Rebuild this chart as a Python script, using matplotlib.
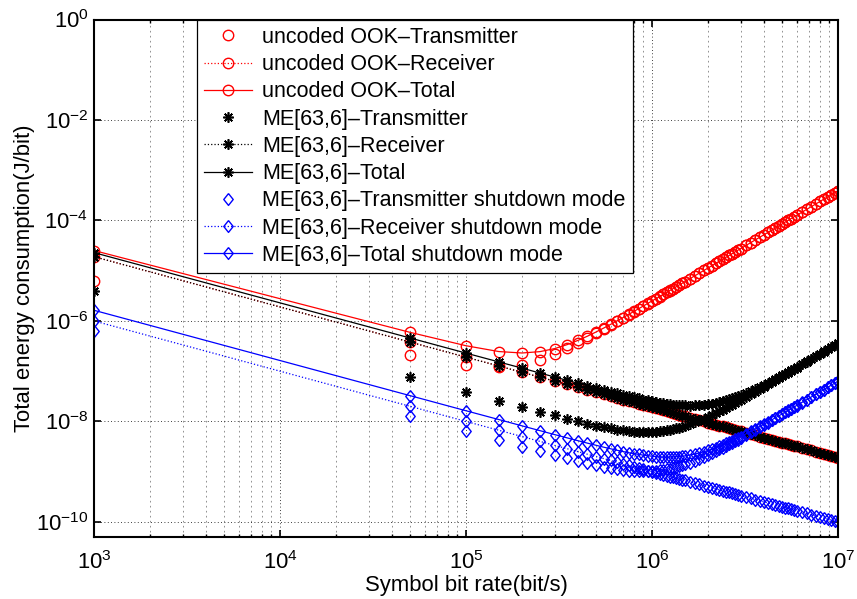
import matplotlib
matplotlib.use("Agg")
import matplotlib.pyplot as plt
from matplotlib.ticker import LogLocator, NullLocator, NullFormatter

plt.rcParams["font.family"] = ["Liberation Sans", "DejaVu Sans"]
plt.rcParams["mathtext.fontset"] = "custom"
plt.rcParams["mathtext.rm"] = "Liberation Sans"
plt.rcParams["mathtext.it"] = "Liberation Sans:italic"
plt.rcParams["mathtext.bf"] = "Liberation Sans:bold"

# symbol bit rate (bit/s)
X_BPS = [1e3, 5e4, 1e5, 1.5e5, 2e5, 2.5e5, 3e5, 3.5e5, 4e5, 4.5e5, 5e5,
         5.5e5, 6e5, 6.5e5, 7e5, 7.5e5, 8e5, 8.5e5, 9e5, 9.5e5, 1e6,
         1.05e6, 1.1e6, 1.15e6, 1.2e6, 1.25e6, 1.3e6, 1.35e6, 1.4e6, 1.45e6, 1.5e6,
         1.6e6, 1.7e6, 1.8e6, 1.9e6, 2.0e6, 2.1e6, 2.2e6, 2.3e6, 2.4e6, 2.5e6,
         2.6e6, 2.7e6, 2.8e6, 2.9e6, 3.0e6,
         3.2e6, 3.4e6, 3.6e6, 3.8e6, 4.0e6, 4.2e6, 4.4e6, 4.6e6, 4.8e6, 5.0e6,
         5.2e6, 5.4e6, 5.6e6, 5.8e6, 6.0e6,
         6.4e6, 6.8e6, 7.2e6, 7.6e6, 8.0e6, 8.4e6, 8.8e6, 9.2e6, 9.6e6, 1e7]

# energy per bit (J/bit)
OOK_TX = [6.2e-6, 2.13e-7, 1.31e-7, 1.19e-7, 1.35e-7, 1.69e-7, 2.19e-7, 2.84e-7, 3.62e-7, 4.56e-7, 5.64e-7,
          6.87e-7, 8.24e-7, 9.77e-7, 1.14e-6, 1.33e-6, 1.53e-6, 1.74e-6, 1.97e-6, 2.22e-6, 2.48e-6,
          2.76e-6, 3.05e-6, 3.36e-6, 3.69e-6, 4.03e-6, 4.40e-6, 4.77e-6, 5.17e-6, 5.58e-6, 6.02e-6,
          6.93e-6, 7.91e-6, 8.97e-6, 1.01e-5, 1.13e-5, 1.26e-5, 1.40e-5, 1.54e-5, 1.69e-5, 1.85e-5,
          2.01e-5, 2.19e-5, 2.37e-5, 2.56e-5, 2.76e-5,
          3.18e-5, 3.63e-5, 4.12e-5, 4.64e-5, 5.20e-5, 5.78e-5, 6.41e-5, 7.07e-5, 7.76e-5, 8.49e-5,
          9.26e-5, 1.01e-4, 1.09e-4, 1.18e-4, 1.27e-4,
          1.46e-4, 1.67e-4, 1.89e-4, 2.13e-4, 2.39e-4, 2.66e-4, 2.94e-4, 3.25e-4, 3.57e-4, 3.90e-4]
OOK_RX = [1.9e-5, 3.8e-7, 1.9e-7, 1.27e-7, 9.5e-8, 7.6e-8, 6.33e-8, 5.43e-8, 4.75e-8, 4.22e-8, 3.8e-8,
          3.45e-8, 3.17e-8, 2.92e-8, 2.71e-8, 2.53e-8, 2.38e-8, 2.24e-8, 2.11e-8, 2.0e-8, 1.9e-8,
          1.81e-8, 1.73e-8, 1.65e-8, 1.58e-8, 1.52e-8, 1.46e-8, 1.41e-8, 1.36e-8, 1.31e-8, 1.27e-8,
          1.19e-8, 1.12e-8, 1.06e-8, 1.0e-8, 9.5e-9, 9.05e-9, 8.64e-9, 8.26e-9, 7.92e-9, 7.6e-9,
          7.31e-9, 7.04e-9, 6.79e-9, 6.55e-9, 6.33e-9,
          5.94e-9, 5.59e-9, 5.28e-9, 5.0e-9, 4.75e-9, 4.52e-9, 4.32e-9, 4.13e-9, 3.96e-9, 3.8e-9,
          3.65e-9, 3.52e-9, 3.39e-9, 3.28e-9, 3.17e-9,
          2.97e-9, 2.79e-9, 2.64e-9, 2.5e-9, 2.38e-9, 2.26e-9, 2.16e-9, 2.07e-9, 1.98e-9, 1.9e-9]
OOK_TOTAL = [2.52e-5, 5.93e-7, 3.21e-7, 2.46e-7, 2.30e-7, 2.45e-7, 2.82e-7, 3.38e-7, 4.10e-7, 4.98e-7, 6.02e-7,
             7.22e-7, 8.56e-7, 1.01e-6, 1.17e-6, 1.35e-6, 1.55e-6, 1.76e-6, 1.99e-6, 2.24e-6, 2.50e-6,
             2.77e-6, 3.07e-6, 3.38e-6, 3.71e-6, 4.05e-6, 4.41e-6, 4.79e-6, 5.19e-6, 5.60e-6, 6.03e-6,
             6.94e-6, 7.92e-6, 8.98e-6, 1.01e-5, 1.13e-5, 1.26e-5, 1.40e-5, 1.54e-5, 1.69e-5, 1.85e-5,
             2.01e-5, 2.19e-5, 2.37e-5, 2.56e-5, 2.76e-5,
             3.18e-5, 3.63e-5, 4.12e-5, 4.64e-5, 5.20e-5, 5.78e-5, 6.41e-5, 7.07e-5, 7.76e-5, 8.49e-5,
             9.26e-5, 1.01e-4, 1.09e-4, 1.18e-4, 1.27e-4,
             1.46e-4, 1.67e-4, 1.89e-4, 2.13e-4, 2.39e-4, 2.66e-4, 2.94e-4, 3.25e-4, 3.57e-4, 3.90e-4]

ME_TX = [3.9e-6, 7.8e-8, 3.9e-8, 2.6e-8, 1.96e-8, 1.57e-8, 1.32e-8, 1.14e-8, 1.0e-8, 9.06e-9, 8.29e-9,
         7.70e-9, 7.24e-9, 6.88e-9, 6.61e-9, 6.41e-9, 6.27e-9, 6.18e-9, 6.13e-9, 6.13e-9, 6.17e-9,
         6.24e-9, 6.35e-9, 6.48e-9, 6.64e-9, 6.83e-9, 7.05e-9, 7.29e-9, 7.55e-9, 7.83e-9, 8.14e-9,
         8.83e-9, 9.60e-9, 1.05e-8, 1.14e-8, 1.24e-8, 1.35e-8, 1.46e-8, 1.59e-8, 1.72e-8, 1.86e-8,
         2.01e-8, 2.16e-8, 2.33e-8, 2.50e-8, 2.68e-8,
         3.06e-8, 3.47e-8, 3.91e-8, 4.39e-8, 4.89e-8, 5.43e-8, 6.00e-8, 6.61e-8, 7.25e-8, 7.92e-8,
         8.62e-8, 9.35e-8, 1.01e-7, 1.09e-7, 1.18e-7,
         1.36e-7, 1.55e-7, 1.75e-7, 1.97e-7, 2.21e-7, 2.46e-7, 2.72e-7, 3.00e-7, 3.29e-7, 3.60e-7]
ME_RX = OOK_RX  # the two receiver curves lie on top of each other in the figure
ME_TOTAL = [2.29e-5, 4.58e-7, 2.29e-7, 1.53e-7, 1.15e-7, 9.17e-8, 7.65e-8, 6.57e-8, 5.75e-8, 5.13e-8, 4.63e-8,
            4.22e-8, 3.89e-8, 3.61e-8, 3.37e-8, 3.17e-8, 3.01e-8, 2.86e-8, 2.72e-8, 2.61e-8, 2.52e-8,
            2.43e-8, 2.37e-8, 2.30e-8, 2.24e-8, 2.20e-8, 2.17e-8, 2.14e-8, 2.12e-8, 2.09e-8, 2.08e-8,
            2.07e-8, 2.08e-8, 2.11e-8, 2.14e-8, 2.19e-8, 2.25e-8, 2.33e-8, 2.42e-8, 2.51e-8, 2.62e-8,
            2.74e-8, 2.87e-8, 3.01e-8, 3.15e-8, 3.31e-8,
            3.65e-8, 4.03e-8, 4.44e-8, 4.89e-8, 5.37e-8, 5.88e-8, 6.44e-8, 7.02e-8, 7.64e-8, 8.30e-8,
            8.98e-8, 9.71e-8, 1.05e-7, 1.13e-7, 1.21e-7,
            1.39e-7, 1.58e-7, 1.78e-7, 2.00e-7, 2.23e-7, 2.48e-7, 2.74e-7, 3.02e-7, 3.32e-7, 3.62e-7]

SD_TX = [6.3e-7, 1.26e-8, 6.3e-9, 4.21e-9, 3.16e-9, 2.54e-9, 2.13e-9, 1.84e-9, 1.63e-9, 1.47e-9, 1.35e-9,
         1.25e-9, 1.18e-9, 1.12e-9, 1.08e-9, 1.05e-9, 1.03e-9, 1.02e-9, 1.02e-9, 1.02e-9, 1.03e-9,
         1.04e-9, 1.06e-9, 1.09e-9, 1.12e-9, 1.15e-9, 1.19e-9, 1.24e-9, 1.28e-9, 1.33e-9, 1.39e-9,
         1.51e-9, 1.65e-9, 1.80e-9, 1.96e-9, 2.14e-9, 2.33e-9, 2.54e-9, 2.76e-9, 2.99e-9, 3.24e-9,
         3.50e-9, 3.77e-9, 4.05e-9, 4.35e-9, 4.67e-9,
         5.33e-9, 6.06e-9, 6.83e-9, 7.66e-9, 8.55e-9, 9.49e-9, 1.05e-8, 1.16e-8, 1.27e-8, 1.38e-8,
         1.51e-8, 1.64e-8, 1.77e-8, 1.91e-8, 2.06e-8,
         2.37e-8, 2.71e-8, 3.07e-8, 3.45e-8, 3.86e-8, 4.30e-8, 4.76e-8, 5.25e-8, 5.77e-8, 6.31e-8]
SD_RX = [1.0e-6, 2.0e-8, 1.0e-8, 6.67e-9, 5.0e-9, 4.0e-9, 3.33e-9, 2.86e-9, 2.5e-9, 2.22e-9, 2.0e-9,
         1.82e-9, 1.67e-9, 1.54e-9, 1.43e-9, 1.33e-9, 1.25e-9, 1.18e-9, 1.11e-9, 1.05e-9, 1.0e-9,
         9.52e-10, 9.09e-10, 8.7e-10, 8.33e-10, 8.0e-10, 7.69e-10, 7.41e-10, 7.14e-10, 6.9e-10, 6.67e-10,
         6.25e-10, 5.88e-10, 5.56e-10, 5.26e-10, 5.0e-10, 4.76e-10, 4.55e-10, 4.35e-10, 4.17e-10, 4.0e-10,
         3.85e-10, 3.7e-10, 3.57e-10, 3.45e-10, 3.33e-10,
         3.13e-10, 2.94e-10, 2.78e-10, 2.63e-10, 2.5e-10, 2.38e-10, 2.27e-10, 2.17e-10, 2.08e-10, 2.0e-10,
         1.92e-10, 1.85e-10, 1.79e-10, 1.72e-10, 1.67e-10,
         1.56e-10, 1.47e-10, 1.39e-10, 1.32e-10, 1.25e-10, 1.19e-10, 1.14e-10, 1.09e-10, 1.04e-10, 1.0e-10]
SD_TOTAL = [1.63e-6, 3.26e-8, 1.63e-8, 1.09e-8, 8.16e-9, 6.54e-9, 5.46e-9, 4.70e-9, 4.13e-9, 3.69e-9, 3.35e-9,
            3.07e-9, 2.85e-9, 2.66e-9, 2.51e-9, 2.38e-9, 2.28e-9, 2.20e-9, 2.13e-9, 2.07e-9, 2.03e-9,
            1.99e-9, 1.97e-9, 1.96e-9, 1.95e-9, 1.95e-9, 1.96e-9, 1.98e-9, 1.99e-9, 2.02e-9, 2.06e-9,
            2.14e-9, 2.24e-9, 2.36e-9, 2.49e-9, 2.64e-9, 2.81e-9, 3.00e-9, 3.20e-9, 3.41e-9, 3.64e-9,
            3.89e-9, 4.14e-9, 4.41e-9, 4.70e-9, 5.00e-9,
            5.64e-9, 6.35e-9, 7.11e-9, 7.92e-9, 8.80e-9, 9.73e-9, 1.07e-8, 1.18e-8, 1.29e-8, 1.40e-8,
            1.53e-8, 1.66e-8, 1.79e-8, 1.93e-8, 2.08e-8,
            2.39e-8, 2.72e-8, 3.08e-8, 3.47e-8, 3.88e-8, 4.31e-8, 4.77e-8, 5.26e-8, 5.78e-8, 6.32e-8]

LABELS = ["uncoded OOK\u2013Transmitter", "uncoded OOK\u2013Receiver", "uncoded OOK\u2013Total",
          "ME[63,6]\u2013Transmitter", "ME[63,6]\u2013Receiver", "ME[63,6]\u2013Total",
          "ME[63,6]\u2013Transmitter shutdown mode", "ME[63,6]\u2013Receiver shutdown mode",
          "ME[63,6]\u2013Total shutdown mode"]

ASTERISK = (8, 2, 0)
DIAMOND = [(0, 1), (0.8, 0), (0, -1), (-0.8, 0), (0, 1)]
FS = 15.9
LEG_FS = 15.5

fig = plt.figure(figsize=(8.57, 5.99), dpi=100)
ax = fig.add_axes([0.1097, 0.1035, 0.8681, 0.8639])

series = [
    (OOK_TX, "r", "none", "o", 7.5, 1.0),
    (OOK_RX, "r", ":", "o", 7.5, 1.0),
    (OOK_TOTAL, "r", "-", "o", 7.5, 1.0),
    (ME_TX, "k", "none", ASTERISK, 7.5, 1.2),
    (ME_RX, "k", ":", ASTERISK, 7.5, 1.2),
    (ME_TOTAL, "k", "-", ASTERISK, 7.5, 1.2),
    (SD_TX, "b", "none", DIAMOND, 8.5, 1.0),
    (SD_RX, "b", ":", DIAMOND, 8.5, 1.0),
    (SD_TOTAL, "b", "-", DIAMOND, 8.5, 1.0),
]
for (vals, col, ls, mk, ms, mew), lab in zip(series, LABELS):
    ax.plot(X_BPS, vals, color=col, linestyle=ls, linewidth=0.9, marker=mk,
            markersize=ms, markerfacecolor="none", markeredgecolor=col,
            markeredgewidth=mew, label=lab)

ax.set_xscale("log")
ax.set_yscale("log")
ax.set_xlim(1e3, 1e7)
ax.set_ylim(5e-11, 1)
ax.set_xticks([1e3, 1e4, 1e5, 1e6, 1e7])
ax.xaxis.set_minor_locator(LogLocator(base=10, subs=range(2, 10), numticks=20))
ax.xaxis.set_minor_formatter(NullFormatter())
ax.set_yticks([1e-10, 1e-8, 1e-6, 1e-4, 1e-2, 1e0])
ax.yaxis.set_minor_locator(NullLocator())

ax.grid(True, which="major", linestyle=(0, (1, 3)), color="k", linewidth=0.6)
ax.xaxis.grid(True, which="minor", linestyle=(0, (2, 4)), color="0.5", linewidth=0.6)
ax.set_axisbelow(True)

ax.tick_params(which="both", direction="in", top=True, right=True, labelsize=FS)
ax.tick_params(which="major", length=5, width=1.2)
ax.tick_params(which="minor", length=2.5, width=1.0)
ax.tick_params(axis="y", pad=4)
ax.tick_params(axis="x", pad=10)
for sp in ax.spines.values():
    sp.set_linewidth(1.5)

ax.set_xlabel("Symbol bit rate(bit/s)", fontsize=FS, labelpad=1)
ax.set_ylabel("Total energy consumption(J/bit)", fontsize=FS, labelpad=1)

leg = ax.legend(loc="upper left", bbox_to_anchor=(0.1384, 1.0), borderaxespad=0,
                fontsize=LEG_FS, numpoints=1, handlelength=2.2, handletextpad=0.5,
                borderpad=0.34, labelspacing=0.29, fancybox=False, framealpha=1,
                edgecolor="k")
leg.get_frame().set_linewidth(0.9)

fig.savefig("out.png", dpi=100)
